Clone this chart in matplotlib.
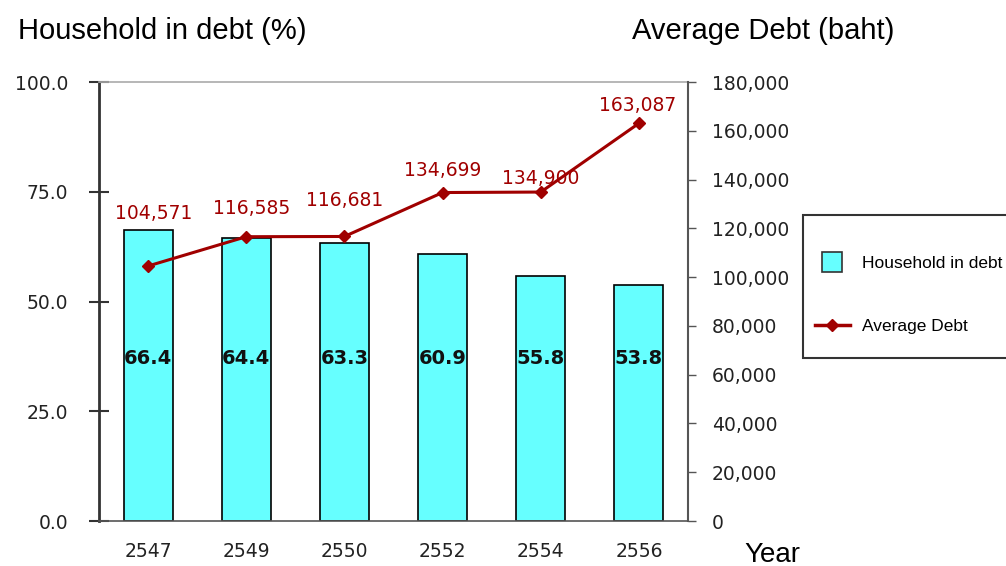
import matplotlib
matplotlib.use('Agg')
import matplotlib.pyplot as plt
from matplotlib.lines import Line2D
from matplotlib.patches import Rectangle
import numpy as np

years = ['2547', '2549', '2550', '2552', '2554', '2556']
household_pct = [66.4, 64.4, 63.3, 60.9, 55.8, 53.8]
avg_debt = [104571, 116585, 116681, 134699, 134900, 163087]

bar_color = '#66FFFF'
line_color = '#A00000'

fig = plt.figure(figsize=(10.06, 5.66), dpi=100)
ax = fig.add_axes([0.0984, 0.0795, 0.5855, 0.7755])
ax2 = ax.twinx()

x = np.arange(len(years))
ax.bar(x, household_pct, width=0.5, color=bar_color, edgecolor='black', linewidth=1.2, zorder=2)
for xi, v in zip(x, household_pct):
    ax.text(xi, 37, f'{v:.1f}', ha='center', va='center', fontsize=14, fontweight='bold',
            color='#111111', zorder=3)

ax.set_xlim(-0.5, len(years) - 0.5)
ax.set_ylim(0, 100)
ax.set_yticks([0, 25, 50, 75, 100])
ax.set_yticklabels([f'{t:.1f}' for t in [0, 25, 50, 75, 100]])
ax.set_xticks(x)
ax.set_xticklabels(years)
ax.tick_params(axis='y', direction='inout', length=14, width=1.5, color='#333333',
               labelsize=13.5, labelcolor='#222222', pad=15)
ax.tick_params(axis='x', length=0, labelsize=13.5, labelcolor='#222222', pad=15)
ax.spines['left'].set_color('#333333')
ax.spines['left'].set_linewidth(2)
ax.spines['bottom'].set_color('#555555')
ax.spines['bottom'].set_linewidth(1.2)
ax.spines['top'].set_color('#aaaaaa')
ax.spines['top'].set_linewidth(1.2)
ax.spines['right'].set_visible(False)

ax2.plot(x, avg_debt, color=line_color, linewidth=2.2, marker='D', markersize=6, zorder=4)
# label offsets in points (dx, dy) from each marker
label_offsets = [(4, 38), (4, 20), (0, 26), (0, 16), (0, 10), (-1, 13)]
for xi, v, (dx, dy) in zip(x, avg_debt, label_offsets):
    ax2.annotate(f'{v:,}', (xi, v), xytext=(dx, dy), textcoords='offset points',
                 ha='center', va='center', fontsize=13.5, color=line_color)
ax2.set_ylim(0, 180000)
ax2.set_yticks(np.arange(0, 180001, 20000))
ax2.set_yticklabels([f'{t:,}' for t in range(0, 180001, 20000)])
ax2.tick_params(axis='y', direction='out', length=6, width=1, color='#555555',
                labelsize=13.5, labelcolor='#222222', pad=11)
ax2.spines['right'].set_color('#555555')
ax2.spines['right'].set_linewidth(1.5)
for s in ['left', 'top', 'bottom']:
    ax2.spines[s].set_visible(False)

fig.text(0.018, 0.945, 'Household in debt (%)', fontsize=21, fontfamily='Liberation Sans',
         ha='left', va='center')
fig.text(0.628, 0.945, 'Average Debt (baht)', fontsize=21, fontfamily='Liberation Sans',
         ha='left', va='center')
fig.text(0.74, 0.02, 'Year', fontsize=20, fontfamily='Liberation Sans',
         ha='left', va='center')

# legend frame (runs off the right edge like the original)
fig.patches.append(Rectangle((803 / 1006, 1 - 358 / 566), 0.25, 143 / 566,
                             transform=fig.transFigure, facecolor='white',
                             edgecolor='#333333', linewidth=1.5, zorder=5))
handles = [Line2D([], [], linestyle='none', marker='s', markersize=15,
                  markerfacecolor=bar_color, markeredgecolor='#333333', markeredgewidth=1.2),
           Line2D([], [], color=line_color, linewidth=2.5, marker='D', markersize=6)]
leg = fig.legend(handles, ['Household in debt', 'Average Debt'], loc='center left',
                 bbox_to_anchor=(815 / 1006, 1 - 295 / 566), frameon=False,
                 prop={'family': 'Liberation Sans', 'size': 12.5}, labelspacing=2.8,
                 borderpad=0, handlelength=2.0, handletextpad=0.7, borderaxespad=0)
leg.set_zorder(6)

fig.savefig('out.png', dpi=100)
